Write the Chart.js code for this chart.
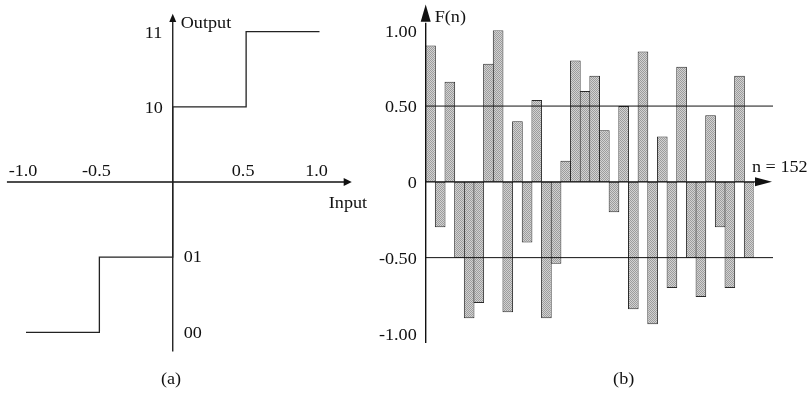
<!DOCTYPE html>
<html>
<head>
<meta charset="utf-8">
<script src="https://cdn.jsdelivr.net/npm/chart.js@4.4.0/dist/chart.umd.min.js"></script>
<style>
  html, body { margin: 0; padding: 0; background: #fff; }
  #wrap { position: relative; width: 811px; height: 394px; }
  #quantizer-chart { position: absolute; left: 0; top: 0; }
  #coefficient-chart { position: absolute; left: 360px; top: 0; }
</style>
</head>
<body>
<div id="wrap">
  <canvas id="quantizer-chart" width="400" height="394"></canvas>
  <canvas id="coefficient-chart" width="451" height="394"></canvas>
</div>
<script>
// (a) two-bit quantizer
var quantInput = [-1.0, -0.5, 0, 0, 0.5, 1.0];
var quantOutput = [-1.0, -0.5, -0.5, 0.5, 1.0, 1.0];
var inputTickValues = [-1.0, -0.5, 0.5, 1.0];
var inputTickLabels = ['-1.0', '-0.5', '0.5', '1.0'];
var outputLevelValues = [1.0, 0.5, -0.5, -1.0];
var outputLevelLabels = ['11', '10', '01', '00'];

// (b) F(n) for n = 152
var sampleIndex = [1, 2, 3, 4, 5, 6, 7, 8, 9, 10, 11, 12, 13, 14, 15, 16, 17,
  18, 19, 20, 21, 22, 23, 24, 25, 26, 27, 28, 29, 30, 31, 32, 33, 34];
var coefficientValues = [0.90, -0.30, 0.66, -0.50, -0.90, -0.80, 0.78, 1.00, -0.86, 0.40,
  -0.40, 0.54, -0.90, -0.54, 0.14, 0.80, 0.60, 0.70, 0.34, -0.20,
  0.50, -0.84, 0.86, -0.94, 0.30, -0.70, 0.76, -0.50, -0.76, 0.44,
  -0.30, -0.70, 0.70, -0.50];
var fTickValues = [1.0, 0.5, 0, -0.5, -1.0];
var fTickLabels = ['1.00', '0.50', '0', '-0.50', '-1.00'];
var thresholdValues = [0.5, -0.5];

var FONT = '16.5px "Liberation Serif", "Times New Roman", serif';

function drawText(ctx, text, x, y, align, baseline) {
  ctx.save();
  ctx.translate(x, y);
  ctx.scale(1.1, 1);
  ctx.font = FONT;
  ctx.fillStyle = '#111';
  ctx.textAlign = align;
  ctx.textBaseline = baseline;
  ctx.fillText(text, 0, 0);
  ctx.restore();
}

function line(ctx, x1, y1, x2, y2) {
  ctx.beginPath();
  ctx.moveTo(x1, y1);
  ctx.lineTo(x2, y2);
  ctx.stroke();
}

function triangle(ctx, pts) {
  ctx.beginPath();
  ctx.moveTo(pts[0], pts[1]);
  ctx.lineTo(pts[2], pts[3]);
  ctx.lineTo(pts[4], pts[5]);
  ctx.closePath();
  ctx.fill();
}

// stipple fill like the printed bars
function stipple() {
  var c = document.createElement('canvas');
  c.width = 2; c.height = 2;
  var g = c.getContext('2d');
  g.fillStyle = '#d2d2d2'; g.fillRect(0, 0, 2, 2);
  g.fillStyle = '#9c9c9c'; g.fillRect(0, 0, 1, 1); g.fillRect(1, 1, 1, 1);
  return g.createPattern(c, 'repeat');
}

var quantizerAxes = {
  id: 'quantizerAxes',
  beforeDatasetsDraw: function (chart) {
    var ctx = chart.ctx, xs = chart.scales.x, ys = chart.scales.y;
    var x0 = xs.getPixelForValue(0), y0 = ys.getPixelForValue(0);
    ctx.save();
    ctx.strokeStyle = '#111';
    ctx.fillStyle = '#111';
    ctx.lineWidth = 1.3;
    // horizontal input axis
    line(ctx, xs.getPixelForValue(-1.13), y0, xs.getPixelForValue(1.17), y0);
    triangle(ctx, [xs.getPixelForValue(1.22), y0, xs.getPixelForValue(1.165), y0 - 4, xs.getPixelForValue(1.165), y0 + 4]);
    // vertical output axis
    line(ctx, x0, ys.getPixelForValue(-1.127), x0, ys.getPixelForValue(1.07));
    triangle(ctx, [x0, ys.getPixelForValue(1.12), x0 - 3.5, ys.getPixelForValue(1.065), x0 + 3.5, ys.getPixelForValue(1.065)]);
    ctx.restore();
  },
  afterDraw: function (chart) {
    var ctx = chart.ctx, xs = chart.scales.x, ys = chart.scales.y;
    var x0 = xs.getPixelForValue(0), y0 = ys.getPixelForValue(0);
    inputTickValues.forEach(function (v, i) {
      drawText(ctx, inputTickLabels[i], xs.getPixelForValue(v) - 3, y0 - 6, 'center', 'alphabetic');
    });
    outputLevelValues.forEach(function (v, i) {
      if (v > 0) {
        drawText(ctx, outputLevelLabels[i], x0 - 28, ys.getPixelForValue(v) + 1.5, 'left', 'middle');
      } else {
        drawText(ctx, outputLevelLabels[i], x0 + 11, ys.getPixelForValue(v) + 1, 'left', 'middle');
      }
    });
    drawText(ctx, 'Output', x0 + 8, ys.getPixelForValue(1) - 3.5, 'left', 'alphabetic');
    drawText(ctx, 'Input', xs.getPixelForValue(1.22) - 23, y0 + 26, 'left', 'alphabetic');
    drawText(ctx, '(a)', 171, 380, 'center', 'middle');
  }
};

var coefficientAxes = {
  id: 'coefficientAxes',
  afterDatasetsDraw: function (chart) {
    var ctx = chart.ctx, ys = chart.scales.y, area = chart.chartArea;
    var ax = area.left, y0 = ys.getPixelForValue(0);
    ctx.save();
    ctx.strokeStyle = '#111';
    ctx.fillStyle = '#111';
    ctx.lineWidth = 1;
    thresholdValues.forEach(function (v) {
      line(ctx, ax, ys.getPixelForValue(v), area.right + 19, ys.getPixelForValue(v));
    });
    ctx.lineWidth = 1.4;
    line(ctx, ax, y0, area.right + 2, y0);
    triangle(ctx, [area.right + 18, y0, area.right + 1, y0 - 4.5, area.right + 1, y0 + 4.5]);
    line(ctx, ax, ys.getPixelForValue(-1.063), ax, ys.getPixelForValue(1.05));
    triangle(ctx, [ax, ys.getPixelForValue(1.17), ax - 5, ys.getPixelForValue(1.056), ax + 5, ys.getPixelForValue(1.056)]);
    ctx.restore();
  },
  afterDraw: function (chart) {
    var ctx = chart.ctx, ys = chart.scales.y, area = chart.chartArea;
    var ax = area.left, y0 = ys.getPixelForValue(0);
    fTickValues.forEach(function (v, i) {
      drawText(ctx, fTickLabels[i], ax - 9, ys.getPixelForValue(v) + 2, 'right', 'middle');
    });
    drawText(ctx, 'F(n)', ax + 9, 22, 'left', 'alphabetic');
    drawText(ctx, 'n = 152', area.right - 2, y0 - 10, 'left', 'alphabetic');
    drawText(ctx, '(b)', 263.7, 380, 'center', 'middle');
  }
};

var quantPoints = quantInput.map(function (x, i) { return { x: x, y: quantOutput[i] }; });

new Chart(document.getElementById('quantizer-chart'), {
  type: 'scatter',
  data: {
    datasets: [{
      data: quantPoints,
      showLine: true,
      stepped: 'before',
      borderColor: '#222',
      borderWidth: 1.3,
      pointRadius: 0,
      clip: false
    }]
  },
  options: {
    responsive: false,
    animation: false,
    devicePixelRatio: 1,
    layout: { padding: { left: 26, right: 80.5, top: 31.7, bottom: 61.7 } },
    plugins: { legend: { display: false }, tooltip: { enabled: false } },
    scales: {
      x: { type: 'linear', min: -1, max: 1, display: false },
      y: { type: 'linear', min: -1, max: 1, display: false }
    }
  },
  plugins: [quantizerAxes]
});

new Chart(document.getElementById('coefficient-chart'), {
  type: 'bar',
  data: {
    labels: sampleIndex,
    datasets: [{
      data: coefficientValues,
      backgroundColor: stipple(),
      borderColor: '#2a2a2a',
      borderWidth: 1,
      borderSkipped: false,
      categoryPercentage: 1,
      barPercentage: 1.1
    }]
  },
  options: {
    responsive: false,
    animation: false,
    devicePixelRatio: 1,
    layout: { padding: { left: 65.7, right: 57, top: 30.3, bottom: 60.6 } },
    plugins: { legend: { display: false }, tooltip: { enabled: false } },
    scales: {
      x: { type: 'category', display: false },
      y: { type: 'linear', min: -1, max: 1, display: false }
    }
  },
  plugins: [coefficientAxes]
});
</script>
</body>
</html>
